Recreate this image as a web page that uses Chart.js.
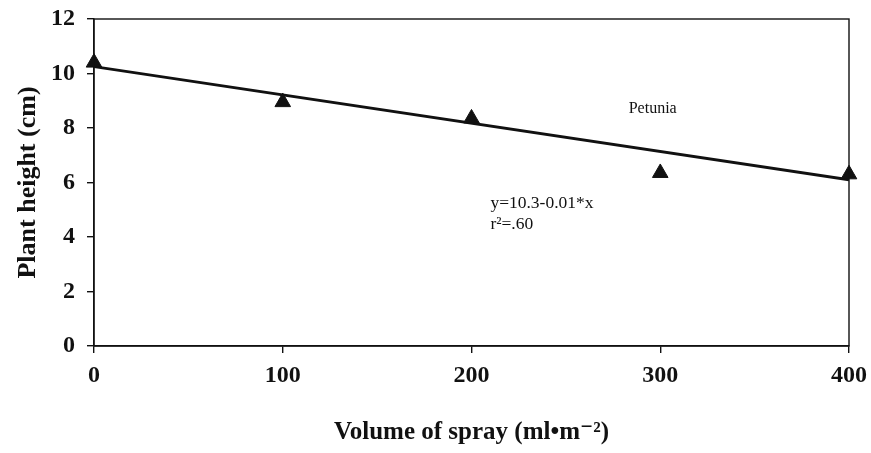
<!DOCTYPE html>
<html lang="en">
<head>
  <meta charset="UTF-8">
  <title>Petunia plant height</title>
  <style>
    html, body { margin: 0; padding: 0; background: #fff; }
    #wrap { width: 871px; height: 453px; }
  </style>
</head>
<body>
  <div id="wrap"><canvas id="chart" width="871" height="453"></canvas></div>

  <script src="https://cdn.jsdelivr.net/npm/chart.js"></script>
  <script>
    // values
    const sprayVolume = [0, 100, 200, 300, 400];
    const plantHeight = [10.4, 8.95, 8.35, 6.35, 6.3];
    const fitX = [0, 400];
    const fitY = [10.25, 6.1];
    const xTicks = [0, 100, 200, 300, 400];
    const yTicks = [0, 2, 4, 6, 8, 10, 12];
    const speciesLabel = 'Petunia';
    const equationLines = ['y=10.3-0.01*x', 'r\u00b2=.60'];

    const serif = '"Liberation Serif", "DejaVu Serif", serif';

    // frame round the plot + the text notes inside it
    const frameAndNotes = {
      id: 'frameAndNotes',
      afterDatasetsDraw(chart) {
        const { ctx, chartArea, scales } = chart;
        ctx.save();
        ctx.strokeStyle = '#111';
        ctx.lineWidth = 1.4;
        ctx.strokeRect(chartArea.left, chartArea.top, chartArea.right - chartArea.left, chartArea.bottom - chartArea.top);

        ctx.fillStyle = '#111';
        ctx.textBaseline = 'middle';
        ctx.textAlign = 'center';
        ctx.font = '16px ' + serif;
        ctx.fillText(speciesLabel, scales.x.getPixelForValue(296), scales.y.getPixelForValue(8.72));
        ctx.textAlign = 'left';
        ctx.font = '17.5px ' + serif;
        ctx.fillText(equationLines[0], scales.x.getPixelForValue(210), scales.y.getPixelForValue(5.25));
        ctx.fillText(equationLines[1], scales.x.getPixelForValue(210), scales.y.getPixelForValue(4.47));
        ctx.restore();
      }
    };

    new Chart(document.getElementById('chart'), {
      type: 'scatter',
      data: {
        datasets: [{
          label: 'Plant height',
          data: sprayVolume.map((v, i) => ({ x: v, y: plantHeight[i] })),
          pointStyle: 'triangle',
          pointRadius: 9,
          pointBackgroundColor: '#111',
          pointBorderColor: '#111',
          pointBorderWidth: 1,
          clip: false,
          order: 1
        }, {
          type: 'line',
          label: 'Fit',
          data: fitX.map((v, i) => ({ x: v, y: fitY[i] })),
          borderColor: '#111',
          borderWidth: 2.8,
          pointRadius: 0,
          fill: false,
          order: 2
        }]
      },
      options: {
        responsive: false,
        animation: false,
        layout: { padding: { top: 19, right: 22, left: 0, bottom: 0 } },
        plugins: { legend: { display: false }, tooltip: { enabled: false } },
        scales: {
          x: {
            type: 'linear',
            min: 0,
            max: 400,
            afterBuildTicks: s => { s.ticks = xTicks.map(v => ({ value: v })); },
            afterFit: s => { s.height = 107; s.paddingLeft = 0; s.paddingRight = 0; },
            grid: { display: true, drawOnChartArea: false, drawTicks: true, tickLength: 7, color: '#111', lineWidth: 1.4 },
            border: { display: true, color: '#111', width: 1.4 },
            ticks: { color: '#111', padding: 8, font: { family: serif, size: 24, weight: 'bold' } },
            title: {
              display: true,
              text: 'Volume of spray (ml\u2022m\u207b\u00b2)',
              color: '#111',
              font: { family: serif, size: 25, weight: 'bold' },
              padding: { top: 0, bottom: 5 }
            }
          },
          y: {
            min: 0,
            max: 12,
            afterBuildTicks: s => { s.ticks = yTicks.map(v => ({ value: v })); },
            afterFit: s => { s.width = 94; s.paddingTop = 0; s.paddingBottom = 0; },
            grid: { display: true, drawOnChartArea: false, drawTicks: true, tickLength: 7, color: '#111', lineWidth: 1.4 },
            border: { display: true, color: '#111', width: 1.4 },
            ticks: { color: '#111', padding: 12, font: { family: serif, size: 24, weight: 'bold' } },
            title: {
              display: true,
              text: 'Plant height (cm)',
              color: '#111',
              font: { family: serif, size: 26, weight: 'bold' },
              padding: { top: 13, bottom: 0 }
            }
          }
        }
      },
      plugins: [frameAndNotes]
    });
  </script>
</body>
</html>
